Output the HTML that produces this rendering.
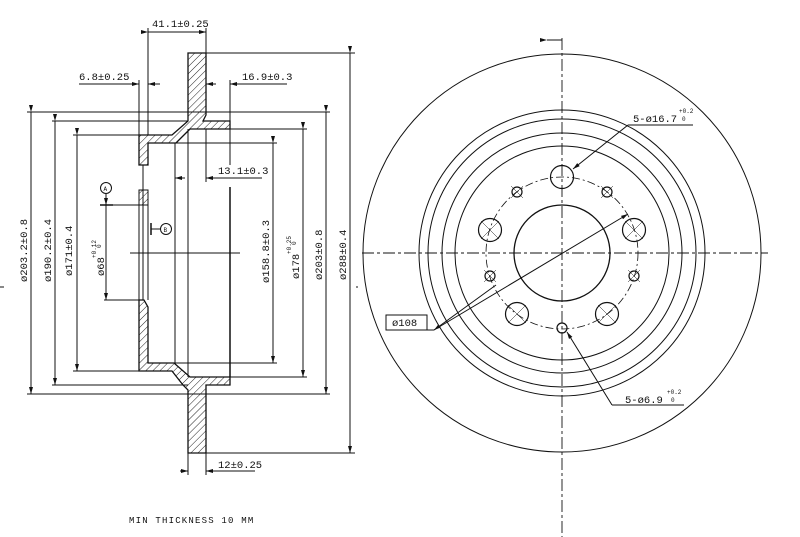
<!DOCTYPE html>
<html><head><style>
html,body{margin:0;padding:0;background:#fff;}
svg{display:block}
text{font-family:"Liberation Mono",monospace;font-size:10.5px;fill:#111;}
</style></head><body>
<svg width="800" height="537" viewBox="0 0 800 537" xmlns="http://www.w3.org/2000/svg">
<defs>
<pattern id="h" patternUnits="userSpaceOnUse" width="5" height="5" patternTransform="rotate(45)">
<rect width="5" height="5" fill="#fff"/><line x1="0" y1="0" x2="0" y2="5" stroke="#222" stroke-width="1"/>
</pattern>
<marker id="a" markerWidth="7" markerHeight="4" refX="7" refY="2" orient="auto" markerUnits="userSpaceOnUse"><path d="M0,0 L7,2 L0,4z" fill="#111"/></marker>
</defs>
<g stroke="#111" stroke-width="1" fill="none">
<path d="M188,53 L206,53 L206,115 L203,121 L230,121 L230,129 L190,129 L176,143 L148,143 L148,165 L139,165 L139,135 L172,135 L188,121 Z" fill="url(#h)" stroke-width="1.3"/>
<path d="M139,190 L148,190 L148,205 L139,205Z" fill="url(#h)"/>
<path d="M139,300 L144,300 L148,307 L148,363 L174,363 L190,377 L230,377 L230,385 L206,385 L206,453 L188,453 L188,390 L183,385 L172,371 L139,371 Z" fill="url(#h)" stroke-width="1.3"/>
<line x1="175" y1="143" x2="175" y2="363"/>
<line x1="188" y1="129" x2="188" y2="377"/>
<line x1="230" y1="129" x2="230" y2="165"/>
<line x1="230" y1="187" x2="230" y2="377" stroke-width="1.5"/>
<line x1="143" y1="165" x2="143" y2="300"/>
<line x1="148" y1="205" x2="148" y2="300"/>
<line x1="139" y1="205" x2="139" y2="300"/>
<line x1="130" y1="253" x2="240" y2="253"/>
<line x1="27" y1="112" x2="330" y2="112"/>
<line x1="27" y1="394" x2="330" y2="394"/>
<line x1="52" y1="121" x2="188" y2="121"/>
<line x1="52" y1="385" x2="188" y2="385"/>
<line x1="73" y1="135" x2="139" y2="135"/>
<line x1="73" y1="371" x2="139" y2="371"/>
<line x1="100" y1="205" x2="139" y2="205"/>
<line x1="104" y1="300" x2="139" y2="300"/>
<line x1="175" y1="143" x2="277" y2="143"/>
<line x1="175" y1="363" x2="277" y2="363"/>
<line x1="230" y1="129" x2="307" y2="129"/>
<line x1="230" y1="377" x2="307" y2="377"/>
<line x1="206" y1="53" x2="355" y2="53"/>
<line x1="206" y1="453" x2="355" y2="453"/>
<line x1="31" y1="112" x2="31" y2="394" marker-start="url(#a)" marker-end="url(#a)"/>
<line x1="55" y1="121" x2="55" y2="385" marker-start="url(#a)" marker-end="url(#a)"/>
<line x1="77" y1="135" x2="77" y2="371" marker-start="url(#a)" marker-end="url(#a)"/>
<line x1="106" y1="205" x2="106" y2="300" marker-start="url(#a)" marker-end="url(#a)"/>
<line x1="273" y1="143" x2="273" y2="363" marker-start="url(#a)" marker-end="url(#a)"/>
<line x1="303" y1="129" x2="303" y2="377" marker-start="url(#a)" marker-end="url(#a)"/>
<line x1="326" y1="112" x2="326" y2="394" marker-start="url(#a)" marker-end="url(#a)"/>
<line x1="350" y1="53" x2="350" y2="453" marker-start="url(#a)" marker-end="url(#a)"/>
<line x1="148" y1="28" x2="148" y2="135"/>
<line x1="206" y1="28" x2="206" y2="53"/>
<line x1="148" y1="32" x2="206" y2="32" marker-start="url(#a)" marker-end="url(#a)"/>
<line x1="139" y1="80" x2="139" y2="135"/>
<line x1="79" y1="84" x2="139" y2="84" marker-end="url(#a)"/>
<line x1="160" y1="84" x2="148" y2="84" marker-end="url(#a)"/>
<line x1="230" y1="80" x2="230" y2="121"/>
<line x1="287" y1="84" x2="230" y2="84" marker-end="url(#a)"/>
<line x1="216" y1="84" x2="206" y2="84" marker-end="url(#a)"/>
<line x1="206" y1="129" x2="206" y2="182"/>
<line x1="262" y1="178" x2="206" y2="178" marker-end="url(#a)"/>
<line x1="185" y1="178" x2="175" y2="178" marker-end="url(#a)"/>
<line x1="188" y1="453" x2="188" y2="475"/>
<line x1="206" y1="453" x2="206" y2="475"/>
<line x1="180" y1="471" x2="188" y2="471" marker-end="url(#a)"/>
<line x1="255" y1="471" x2="206" y2="471" marker-end="url(#a)"/>
<circle cx="106" cy="188" r="5.5"/>
<line x1="106" y1="194" x2="106" y2="205"/>
<line x1="100" y1="205" x2="113" y2="205" stroke-width="1.5"/>
<circle cx="166" cy="229" r="5.5"/>
<line x1="151" y1="229" x2="160" y2="229"/>
<line x1="151" y1="223" x2="151" y2="235" stroke-width="1.5"/>
<line x1="0" y1="287" x2="4" y2="287"/>
<line x1="356" y1="287" x2="358" y2="287"/>
<circle cx="562" cy="253" r="199"/>
<circle cx="562" cy="253" r="143"/>
<circle cx="562" cy="253" r="134"/>
<circle cx="562" cy="253" r="120"/>
<circle cx="562" cy="253" r="107"/>
<circle cx="562" cy="253" r="48" stroke-width="1.3"/>
<circle cx="562" cy="253" r="76" stroke-dasharray="8,3,2,3" stroke-width="0.8"/>
<line x1="362" y1="253" x2="768" y2="253" stroke-dasharray="12,3,3,3" stroke-width="0.9"/>
<line x1="562" y1="38" x2="562" y2="537" stroke-dasharray="12,3,3,3" stroke-width="0.9"/>
<line x1="547" y1="40" x2="562" y2="40" marker-start="url(#a)"/>
<g stroke-width="1.2">
<circle cx="562" cy="177" r="11.5"/>
<circle cx="490" cy="230" r="11.5"/>
<circle cx="634" cy="230" r="11.5"/>
<circle cx="517" cy="314" r="11.5"/>
<circle cx="607" cy="314" r="11.5"/>
<circle cx="562" cy="328" r="5"/>
<circle cx="517" cy="192" r="5"/>
<circle cx="607" cy="192" r="5"/>
<circle cx="490" cy="276" r="5"/>
<circle cx="634" cy="276" r="5"/>
</g>
<g stroke-width="0.5">
<path d="M481,221 L499,239 M499,221 L481,239 M625,221 L643,239 M643,221 L625,239 M508,305 L526,323 M526,305 L508,323 M598,305 L616,323 M616,305 L598,323"/>
<path d="M511,186 L523,198 M523,186 L511,198 M601,186 L613,198 M613,186 L601,198 M484,270 L496,282 M496,270 L484,282 M628,270 L640,282 M640,270 L628,282"/>
</g>
<rect x="386" y="315" width="41" height="15"/>
<line x1="427" y1="330" x2="434" y2="330"/>
<line x1="434" y1="330" x2="628" y2="214" marker-end="url(#a)"/>
<line x1="496" y1="285" x2="434" y2="330" marker-end="url(#a)"/>
<line x1="693" y1="125" x2="628" y2="125"/>
<line x1="628" y1="125" x2="573" y2="169" marker-end="url(#a)"/>
<line x1="684" y1="405" x2="612" y2="405"/>
<line x1="612" y1="405" x2="567" y2="332" marker-end="url(#a)"/>
</g>
<g>
<text x="152" y="27">41.1±0.25</text>
<text x="79" y="80">6.8±0.25</text>
<text x="242" y="80">16.9±0.3</text>
<text x="218" y="174">13.1±0.3</text>
<text x="218" y="468">12±0.25</text>
<text x="129" y="523" style="letter-spacing:1.2px;font-size:9px">MIN THICKNESS 10 MM</text>
<text x="103.5" y="191" style="font-size:6px">A</text>
<text x="163.5" y="232" style="font-size:6px">B</text>
<text transform="translate(27,282) rotate(-90)">ø203.2±0.8</text>
<text transform="translate(51,282) rotate(-90)">ø190.2±0.4</text>
<text transform="translate(72,276) rotate(-90)">ø171±0.4</text>
<text transform="translate(104,276) rotate(-90)">ø68</text>
<text transform="translate(96,258) rotate(-90)" style="font-size:6px">+0.12</text>
<text transform="translate(101,248) rotate(-90)" style="font-size:6px">0</text>
<text transform="translate(269,283) rotate(-90)">ø158.8±0.3</text>
<text transform="translate(299,279) rotate(-90)">ø178</text>
<text transform="translate(291,254) rotate(-90)" style="font-size:6px">+0.25</text>
<text transform="translate(296,245) rotate(-90)" style="font-size:6px">0</text>
<text transform="translate(322,280) rotate(-90)">ø203±0.8</text>
<text transform="translate(346,280) rotate(-90)">ø288±0.4</text>
<text x="392" y="326">ø108</text>
<text x="633" y="122">5-ø16.7</text>
<text x="679" y="113" style="font-size:6px">+0.2</text>
<text x="682" y="121" style="font-size:6px">0</text>
<text x="625" y="403">5-ø6.9</text>
<text x="667" y="394" style="font-size:6px">+0.2</text>
<text x="671" y="402" style="font-size:6px">0</text>
</g>
</svg>
</body></html>
